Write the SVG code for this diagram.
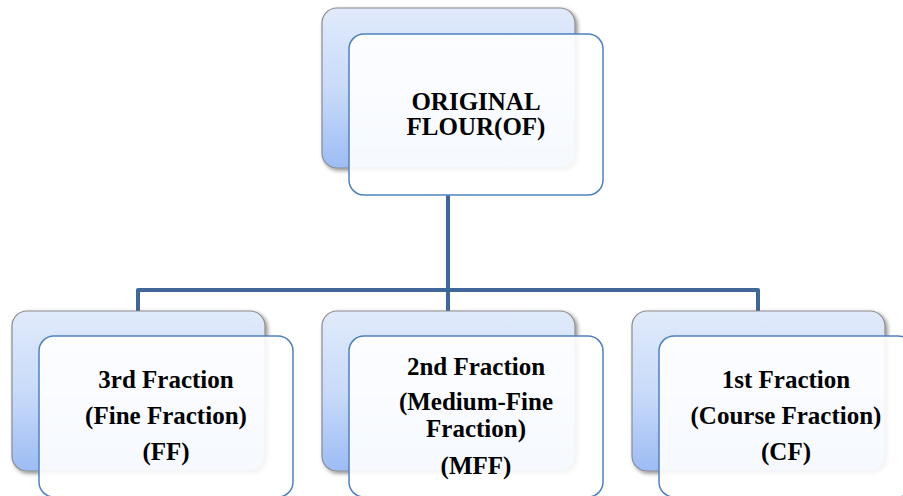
<svg xmlns="http://www.w3.org/2000/svg" width="903" height="496" viewBox="0 0 903 496">
<defs>
<linearGradient id="bg" x1="0" y1="0" x2="0" y2="1">
<stop offset="0" stop-color="#e0eafb"/>
<stop offset="0.5" stop-color="#c9dbf9"/>
<stop offset="1" stop-color="#9dbcf4"/>
</linearGradient>
<filter id="sh" x="-10%" y="-10%" width="130%" height="130%">
<feGaussianBlur in="SourceAlpha" stdDeviation="2"/>
<feOffset dx="2" dy="2" result="b"/>
<feComponentTransfer><feFuncA type="linear" slope="0.45"/></feComponentTransfer>
<feMerge><feMergeNode/><feMergeNode in="SourceGraphic"/></feMerge>
</filter>
</defs>
<style>
.back{fill:url(#bg);stroke:#8c8c8c;stroke-width:1.2;filter:url(#sh)}
.front{fill:#ffffff;fill-opacity:0.9;stroke:#4f81bd;stroke-width:1.5}
.conn{fill:none;stroke:#41679a;stroke-width:4;stroke-linejoin:round}
text{font-family:"Liberation Serif","Times New Roman",serif;font-weight:bold;font-size:25px;fill:#000;text-anchor:middle}
</style>
<rect width="903" height="496" fill="#ffffff"/>
<g id="connectors">
<path class="conn" d="M448,195 V290 M138,320 V290 H758 V320 M448,290 V320"/>
</g>
<g id="node-of">
<rect class="back" x="322" y="8" width="253" height="160" rx="15"/>
<rect class="front" x="349" y="34" width="254" height="161" rx="15"/>
<text x="476" y="110">ORIGINAL</text>
<text x="476" y="135">FLOUR(OF)</text>
</g>
<g id="node-ff">
<rect class="back" x="12" y="311" width="253" height="160" rx="15"/>
<rect class="front" x="39" y="336" width="254" height="161" rx="15"/>
<text x="166" y="388">3rd Fraction</text>
<text x="166" y="424">(Fine Fraction)</text>
<text x="166" y="460">(FF)</text>
</g>
<g id="node-mff">
<rect class="back" x="322" y="311" width="253" height="160" rx="15"/>
<rect class="front" x="349" y="336" width="254" height="161" rx="15"/>
<text x="476" y="375">2nd Fraction</text>
<text x="476" y="410">(Medium-Fine</text>
<text x="476" y="437">Fraction)</text>
<text x="476" y="474">(MFF)</text>
</g>
<g id="node-cf">
<rect class="back" x="632" y="311" width="253" height="160" rx="15"/>
<rect class="front" x="659" y="336" width="254" height="161" rx="15"/>
<text x="786" y="388">1st Fraction</text>
<text x="786" y="424">(Course Fraction)</text>
<text x="786" y="460">(CF)</text>
</g>
</svg>
